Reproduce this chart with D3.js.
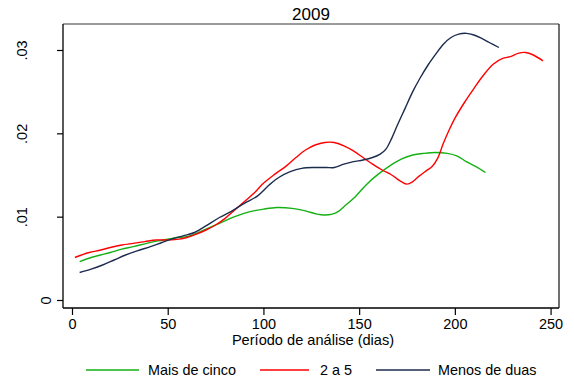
<!DOCTYPE html>
<html>
<head>
<meta charset="utf-8">
<script src="https://cdn.jsdelivr.net/npm/d3@7"></script>
<style>
  html, body { margin: 0; padding: 0; background: #fff; }
  svg { display: block; font-family: "Liberation Sans", Arial, sans-serif; }
</style>
</head>
<body>
<svg id="chart" width="574" height="385"></svg>
<script>
// Smoothed series by length of the period, 2009
const title = "2009";
const xTitle = "Período de análise (dias)";
const seriesNames = ["Mais de cinco", "2 a 5", "Menos de duas"];
const seriesColors = ["#14b014", "#ff0000", "#1c2b4e"];

const xTicks = [0, 50, 100, 150, 200, 250];
const yTicks = [0, 0.01, 0.02, 0.03];

const maisDeCincoDays = [4, 10, 15, 20, 26, 32, 39, 45, 50, 55, 60, 64, 70, 77, 85, 93, 100, 107, 115, 122, 128, 132, 136, 139, 143, 148, 154, 160, 166, 172, 178, 184, 190, 196, 201, 206, 211, 216];
const maisDeCincoValues = [0.0046, 0.0051, 0.0054, 0.0057, 0.0061, 0.0064, 0.0068, 0.0071, 0.0073, 0.0075, 0.0076, 0.0079, 0.0085, 0.0092, 0.0100, 0.0106, 0.0109, 0.0111, 0.0110, 0.0107, 0.0103, 0.0102, 0.0103, 0.0106, 0.0114, 0.0124, 0.0139, 0.0151, 0.0161, 0.0169, 0.0174, 0.0176, 0.0177, 0.0176, 0.0173, 0.0166, 0.0160, 0.0153];

const doisACincoDays = [1.5, 5, 9, 15, 20, 26, 32, 38, 44, 50, 56, 60, 65, 70, 75, 80, 85, 90, 95, 100, 106, 112, 117, 122, 127, 132, 137, 142, 147, 152, 157, 162, 167, 172, 175, 178, 181, 185, 188, 191, 194, 197, 200, 205, 210, 215, 220, 225, 229, 233, 237, 241, 246];
const doisACincoValues = [0.0051, 0.0054, 0.0057, 0.0060, 0.0063, 0.0066, 0.0068, 0.0070, 0.0072, 0.0072, 0.0073, 0.0075, 0.0079, 0.0084, 0.0090, 0.0098, 0.0108, 0.0118, 0.0128, 0.0140, 0.0151, 0.0161, 0.0171, 0.0180, 0.0186, 0.0189, 0.0189, 0.0185, 0.0179, 0.0171, 0.0163, 0.0156, 0.0150, 0.0142, 0.0139, 0.0142, 0.0148, 0.0155, 0.0160, 0.0170, 0.0188, 0.0204, 0.0218, 0.0237, 0.0254, 0.0270, 0.0283, 0.0290, 0.0292, 0.0296, 0.0297, 0.0294, 0.0287];

const menosDeDuasDays = [4, 10, 16, 22, 28, 34, 41, 47, 52, 58, 64, 70, 77, 83, 90, 97, 103, 108, 114, 120, 127, 133, 137, 142, 147, 152, 157, 161, 164, 167, 170, 174, 178, 182, 186, 190, 194, 198, 202, 206, 210, 214, 218, 223];
const menosDeDuasValues = [0.0033, 0.0037, 0.0042, 0.0048, 0.0054, 0.0059, 0.0064, 0.0069, 0.0073, 0.0077, 0.0081, 0.0089, 0.0099, 0.0106, 0.0116, 0.0125, 0.0138, 0.0147, 0.0154, 0.0158, 0.0159, 0.0159, 0.0159, 0.0163, 0.0166, 0.0168, 0.0171, 0.0175, 0.0181, 0.0194, 0.0210, 0.0230, 0.0250, 0.0267, 0.0282, 0.0295, 0.0307, 0.0315, 0.0319, 0.0320, 0.0318, 0.0314, 0.0309, 0.0303];

const series = [
  { name: seriesNames[0], color: seriesColors[0], days: maisDeCincoDays, values: maisDeCincoValues },
  { name: seriesNames[1], color: seriesColors[1], days: doisACincoDays, values: doisACincoValues },
  { name: seriesNames[2], color: seriesColors[2], days: menosDeDuasDays, values: menosDeDuasValues }
];

const svg = d3.select("#chart");
const plot = { left: 63, right: 559, top: 24, bottom: 308 };

const x = d3.scaleLinear().domain([-4.7, 254.4]).range([plot.left, plot.right]);
const y = d3.scaleLinear().domain([-0.00096, 0.03312]).range([plot.bottom, plot.top]);

// plot region outline (top and right)
svg.append("line")
  .attr("x1", plot.left).attr("x2", plot.right)
  .attr("y1", plot.top).attr("y2", plot.top)
  .attr("stroke", "#7a7a7a").attr("stroke-width", 1.3);
svg.append("line")
  .attr("x1", plot.right).attr("x2", plot.right)
  .attr("y1", plot.top).attr("y2", plot.bottom)
  .attr("stroke", "#222").attr("stroke-width", 1.3);

// x axis
const xAxis = svg.append("g")
  .attr("transform", `translate(0,${plot.bottom})`)
  .call(d3.axisBottom(x).tickValues(xTicks).tickSize(7).tickPadding(4).tickSizeOuter(0));
xAxis.select(".domain").attr("stroke", "#000").attr("stroke-width", 1.3)
  .attr("d", `M${plot.left},0H${plot.right}`);
xAxis.selectAll(".tick line").attr("stroke", "#000").attr("stroke-width", 1.2);
xAxis.selectAll(".tick text")
  .attr("font-size", 14.5).attr("fill", "#000")
  .attr("font-family", "Liberation Sans, Arial, sans-serif");

// y axis
const yAxis = svg.append("g")
  .attr("transform", `translate(${plot.left},0)`)
  .call(d3.axisLeft(y).tickValues(yTicks).tickSize(6).tickSizeOuter(0)
    .tickFormat(d => d === 0 ? "0" : d3.format(".2f")(d).replace(/^0/, "")));
yAxis.select(".domain").attr("stroke", "#000").attr("stroke-width", 1.3)
  .attr("d", `M0,${plot.top}V${plot.bottom}`);
yAxis.selectAll(".tick line").attr("stroke", "#000").attr("stroke-width", 1.2);
yAxis.selectAll(".tick text")
  .attr("font-size", 14.5).attr("fill", "#000")
  .attr("font-family", "Liberation Sans, Arial, sans-serif")
  .attr("text-anchor", "middle")
  .attr("dy", null)
  .attr("dominant-baseline", "central")
  .each(function () {
    const w = this.getComputedTextLength();
    const cx = -2.05 * w; // offset from the axis line
    d3.select(this).attr("x", null)
      .attr("transform", `translate(${cx},0) rotate(-90)`);
  });

// title and axis title
svg.append("text")
  .attr("x", (plot.left + plot.right) / 2).attr("y", 20)
  .attr("text-anchor", "middle").attr("font-size", 17).attr("fill", "#000")
  .text(title);
svg.append("text")
  .attr("x", 313).attr("y", 345)
  .attr("text-anchor", "middle").attr("font-size", 14.6).attr("fill", "#000")
  .text(xTitle);

// series lines
const line = d3.line()
  .x(d => x(d[0]))
  .y(d => y(d[1]))
  .curve(d3.curveCatmullRom.alpha(0.5));

series.forEach(s => {
  svg.append("path")
    .datum(s.days.map((dd, i) => [dd, s.values[i]]))
    .attr("fill", "none")
    .attr("stroke", s.color)
    .attr("stroke-width", 1.4)
    .attr("stroke-linejoin", "round")
    .attr("d", line);
});

// legend
const legendItems = [
  { x0: 86, x1: 139, tx: 148 },
  { x0: 260, x1: 309, tx: 320 },
  { x0: 376, x1: 430, tx: 438 }
];
series.forEach((s, i) => {
  const it = legendItems[i];
  svg.append("line")
    .attr("x1", it.x0).attr("x2", it.x1)
    .attr("y1", 370).attr("y2", 370)
    .attr("stroke", s.color).attr("stroke-width", 1.4);
  svg.append("text")
    .attr("x", it.tx).attr("y", 375)
    .attr("font-size", 14.4).attr("fill", "#000")
    .text(s.name);
});
</script>
</body>
</html>
